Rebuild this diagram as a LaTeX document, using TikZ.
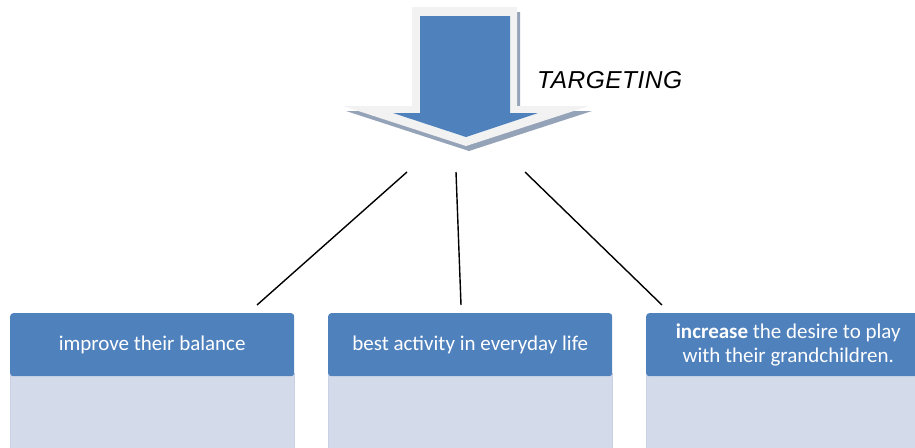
\documentclass[tikz,border=0pt]{standalone}
\usepackage{fontspec}
\setmainfont{Carlito}
\newfontfamily\arialfont[LetterSpace=2]{Liberation Sans}
\definecolor{hdrblue}{HTML}{4F81BD}
\definecolor{bodyblue}{HTML}{D3DBEA}
\definecolor{bodyedge}{HTML}{C9D2E4}
\definecolor{arrowrim}{HTML}{F2F2F2}
\definecolor{arrowshade}{HTML}{95A3B9}
\begin{document}
\begin{tikzpicture}[x=1pt,y=-1pt,
  header/.style={fill=hdrblue, draw=none, rounded corners=3pt, text=white,
    font=\fontsize{21}{23.5}\selectfont, align=center, inner sep=0pt,
    minimum width=284pt, minimum height=63pt, anchor=north west},
  bodybox/.style={fill=bodyblue, draw=bodyedge, line width=0.8pt,
    minimum width=284pt, minimum height=90pt, anchor=north west, inner sep=0pt},
  link/.style={draw=black, line width=1.4pt},
  label/.style={font=\arialfont\itshape\fontsize{24.5}{28}\selectfont,
    anchor=base west, inner sep=0pt}]
\useasboundingbox (0,0) rectangle (915,447);
\clip (0,0) rectangle (915,447);

% block arrow: drop shadow, light rim, blue core
\fill[arrowshade, shift={(3,5)}]
  (412,7) -- (517,7) -- (517,106) -- (589,106) -- (466,146)
  -- (343,106) -- (412,106) -- cycle;
\fill[arrowrim]
  (412,7) -- (517,7) -- (517,106) -- (589,106) -- (466,146)
  -- (343,106) -- (412,106) -- cycle;
\fill[hdrblue]
  (420,16) -- (510,16) -- (510,113) -- (538,113) -- (466,137)
  -- (393,113) -- (420,113) -- cycle;
\node[label] (tgt) at (537,88) {TARGETING};

% three goal boxes: pale body with a blue heading
\node[bodybox] (b1) at (10,373) {};
\node[bodybox] (b2) at (328,373) {};
\node[bodybox] (b3) at (646,373) {};
\node[header] (h1) at (10,313) {improve their balance};
\node[header] (h2) at (328,313) {best activity in everyday life};
\node[header] (h3) at (646,313) {\textbf{increase} the desire to play\\with their grandchildren.};

% connectors fanning out below the arrow
\coordinate (a1) at (407,172);
\coordinate (a2) at (456,172);
\coordinate (a3) at (525,172);
\coordinate (t1) at (257,305);
\coordinate (t2) at (461,305);
\coordinate (t3) at (662,305);
\draw[link] (a1) -- (t1);
\draw[link] (a2) -- (t2);
\draw[link] (a3) -- (t3);
\end{tikzpicture}
\end{document}
